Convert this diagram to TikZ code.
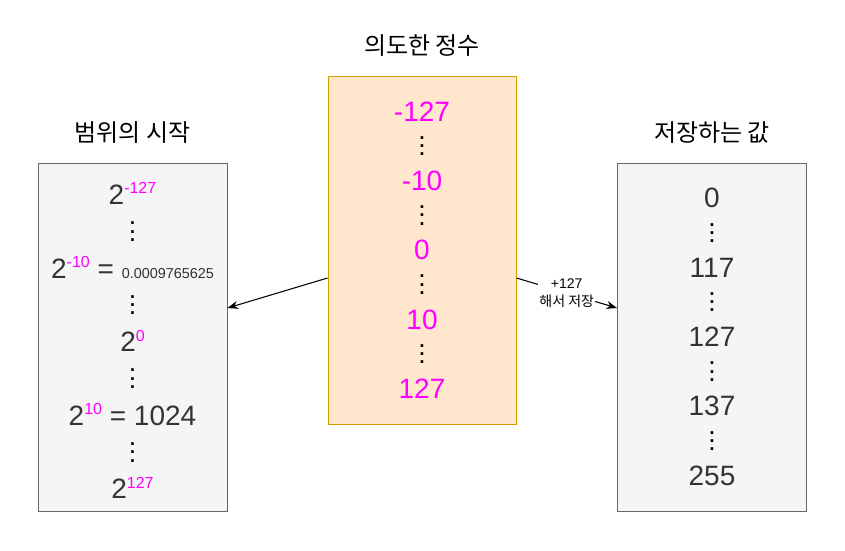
\documentclass[tikz,border=0pt]{standalone}
\usepackage{fontspec}
\setmainfont{Liberation Sans}
\newfontfamily\kr{Noto Sans CJK KR}
\definecolor{grayfill}{HTML}{F5F5F5}
\definecolor{graydraw}{HTML}{666666}
\definecolor{orangefill}{HTML}{FFE6CC}
\definecolor{orangedraw}{HTML}{D79B00}
\definecolor{mag}{HTML}{FF00FF}
\definecolor{valtext}{HTML}{333333}
\usepackage{tikz}
\usetikzlibrary{positioning,arrows.meta}
% vertical dots and small raised exponent
\newcommand\vdts{{\color{black}\vbox{\fontsize{20}{20}\selectfont
  \baselineskip6.2pt\lineskiplimit-20pt\hbox{.}\hbox{.}\hbox{.}}}}
\newcommand\expo[1]{\raisebox{8pt}{\fontsize{12}{12}\selectfont\color{mag}#1}}

\begin{document}
\begin{tikzpicture}[
  x=0.75pt, y=-0.75pt,
  graybox/.style={
    rectangle, draw=graydraw, fill=grayfill, line width=0.75pt,
    minimum width=141.75pt, minimum height=261pt, inner sep=0pt,
    align=center, text=valtext
  },
  intbox/.style={
    rectangle, draw=orangedraw, fill=orangefill, line width=0.75pt,
    minimum width=141pt, minimum height=261pt, inner sep=0pt,
    align=center, text=mag, font=\fontsize{21}{26}\selectfont
  },
  title/.style={font=\kr\fontsize{18}{20}\selectfont, inner sep=1pt},
  arrow/.style={-{Stealth[length=8pt,width=6pt]}, line width=0.8pt, black},
  edgelabel/.style={fill=white, inner sep=1pt, align=center,
    font=\fontsize{10.5}{14}\selectfont}
]
\useasboundingbox (0,0) rectangle (845,550);

\node[graybox, font=\fontsize{21}{27.6}\selectfont] (start) at (132.5,337)
  {\rule{0pt}{22pt}2\expo{-127}\\ \vdts\\
   2\expo{-10} = {\fontsize{10.8}{12}\selectfont 0.0009765625}\\ \vdts\\
   2\expo{0}\\ \vdts\\
   2\expo{10} = 1024\\ \vdts\\
   2\expo{127}};
\node[intbox] (intended) at (422,250)
  {-127\\ \vdts\\ -10\\ \vdts\\ 0\\ \vdts\\ 10\\ \vdts\\ 127};
\node[graybox, font=\fontsize{21}{26}\selectfont] (stored) at (712,337)
  {0\\ \vdts\\ 117\\ \vdts\\ 127\\ \vdts\\ 137\\ \vdts\\ 255};

% titles
\node[title] (starttitle) at (132.5,133) {범위의 시작};
\node[title] (intendedtitle) at (422,46) {의도한 정수};
\node[title] (storedtitle) at (712,133) {저장하는 값};

\draw[arrow] ([yshift=-21pt]intended.west) -- ([yshift=21.75pt]start.east);
\draw[arrow] ([yshift=-21pt]intended.east) -- ([yshift=21.75pt]stored.west)
  node[edgelabel, midway] {+127\\{\kr 해서 저장}};
\end{tikzpicture}
\end{document}
